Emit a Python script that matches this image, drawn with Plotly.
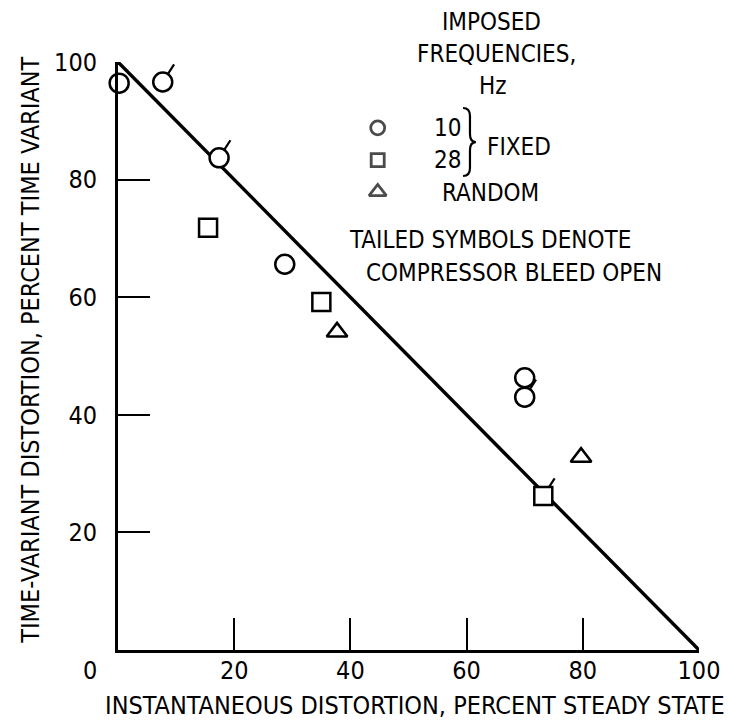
import math
import plotly.graph_objects as go

# ---- data ----
circle_x = [0.2, 7.7, 17.4, 28.7, 70.0, 70.0]
circle_y = [96.4, 96.6, 83.7, 65.6, 46.3, 43.0]
circle_tailed = [False, True, True, False, False, True]

square_x = [15.5, 35.0, 73.2]
square_y = [71.8, 59.2, 26.2]
square_tailed = [False, False, True]

triangle_x = [37.7, 79.7]
triangle_y = [54.1, 32.8]
triangle_tailed = [False, False]

line_x = [0, 100]
line_y = [100, 0]

tick_vals = [20, 40, 60, 80, 100]
tick_text = ["20", "40", "60", "80", "100"]

FONT = "DejaVu Sans Condensed, Liberation Sans Narrow, DejaVu Sans, sans-serif"
W, H = 732, 727
L, R, T, B = 118, 28, 62, 77
PW, PH = W - L - R, H - T - B
PX_X = PW / 100.0   # pixels per x unit
PX_Y = PH / 100.0   # pixels per y unit


def px2paper(px, py):
    return (px - L) / PW, (H - B - py) / PH


def tails(xs, ys, flags, r0=7, r1=21, ang=57):
    tx, ty = [], []
    c, s = math.cos(math.radians(ang)), math.sin(math.radians(ang))
    for x, y, f in zip(xs, ys, flags):
        if f:
            tx += [x + r0 * c / PX_X, x + r1 * c / PX_X, None]
            ty += [y + r0 * s / PX_Y, y + r1 * s / PX_Y, None]
    return tx, ty


fig = go.Figure()

fig.add_trace(go.Scatter(x=line_x, y=line_y, mode="lines",
                         line=dict(color="black", width=3.4), hoverinfo="skip"))

tx, ty = [], []
for xs, ys, fl in [(circle_x, circle_y, circle_tailed),
                   (square_x, square_y, square_tailed),
                   (triangle_x, triangle_y, triangle_tailed)]:
    a, b = tails(xs, ys, fl)
    tx += a
    ty += b
fig.add_trace(go.Scatter(x=tx, y=ty, mode="lines", cliponaxis=False,
                         line=dict(color="black", width=2.2), hoverinfo="skip"))

mk_line = dict(color="black", width=2.5)
fig.add_trace(go.Scatter(x=circle_x, y=circle_y, mode="markers", cliponaxis=False,
                         marker=dict(symbol="circle", size=19, color="white", line=mk_line)))
fig.add_trace(go.Scatter(x=square_x, y=square_y, mode="markers", cliponaxis=False,
                         marker=dict(symbol="square", size=18, color="white", line=mk_line)))
fig.add_trace(go.Scatter(x=triangle_x, y=triangle_y, mode="markers", cliponaxis=False,
                         marker=dict(symbol="triangle-up", size=18, color="white", line=mk_line)))

# legend key symbols
leg_x = [44.7, 44.7, 44.7]
leg_y = [88.8, 83.3, 77.9]
fig.add_trace(go.Scatter(x=leg_x, y=leg_y, mode="markers",
                         marker=dict(symbol=["circle", "square", "triangle-up"], size=[14, 13, 15],
                                     color="white", line=dict(color="black", width=2.8))))

ann = []
def txt(px, py, s, size=24, **kw):
    x, y = px2paper(px, py)
    ann.append(dict(x=x, y=y, xref="paper", yref="paper", text=s, showarrow=False,
                    xanchor="center", yanchor="middle",
                    font=dict(family=FONT, size=size, color="black"), **kw))

txt(495, 22, "IMPOSED")
txt(500, 54, "FREQUENCIES,")
txt(496, 86, "Hz")
txt(450, 128, "10")
txt(450, 160, "28")
txt(522, 147, "FIXED")
txt(494, 193, "RANDOM")
txt(493, 240, "TAILED SYMBOLS DENOTE")
txt(517, 273, "COMPRESSOR BLEED OPEN")
txt(90, 670, "0", size=25)
txt(418, 705, "INSTANTANEOUS DISTORTION, PERCENT STEADY STATE", size=25)
txt(29, 350, "TIME-VARIANT DISTORTION, PERCENT TIME VARIANT", size=25, textangle=-90)

# curly brace grouping "10" and "28"
bp = [(466, 108),
      (471, 108), (473, 111), (473, 116),
      (473, 134),
      (473, 139), (475, 142), (479, 142),
      (475, 142), (473, 145), (473, 150),
      (473, 168),
      (473, 173), (471, 176), (466, 176)]
pp = [px2paper(*p) for p in bp]
cmds = ["M", "C", "", "", "L", "C", "", "", "C", "", "", "L", "C", "", ""]
path = " ".join(f"{c} {x:.4f},{y:.4f}".strip() for c, (x, y) in zip(cmds, pp))
shapes = [dict(type="path", xref="paper", yref="paper", path=path,
               line=dict(color="black", width=2.2))]

axis_common = dict(showgrid=False, zeroline=False, showline=True, linecolor="black",
                   linewidth=3, ticks="inside", ticklen=32, tickwidth=2.4, tickcolor="black",
                   tickvals=tick_vals, ticktext=tick_text, layer="above traces",
                   tickfont=dict(family=FONT, size=25, color="black"))

fig.update_layout(
    width=W, height=H, autosize=False,
    margin=dict(l=L, r=R, t=T, b=B),
    paper_bgcolor="white", plot_bgcolor="white",
    showlegend=False,
    xaxis=dict(range=[0, 100], ticklabelstandoff=-4, **axis_common),
    yaxis=dict(range=[0, 100], ticklabelstandoff=13, **axis_common),
    annotations=ann,
    shapes=shapes,
)

fig.write_html("out.html")
